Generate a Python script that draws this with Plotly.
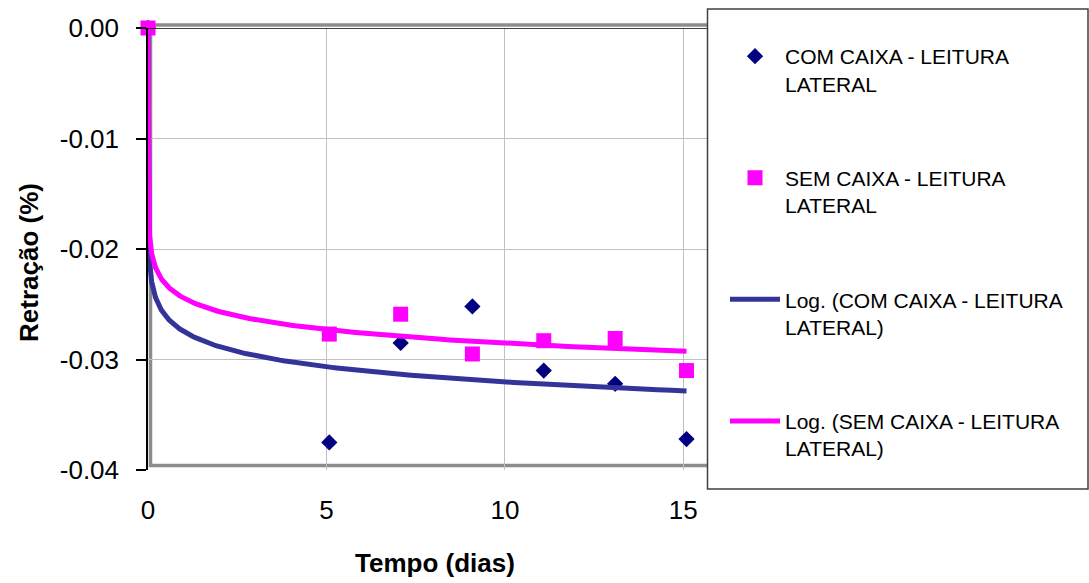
import numpy as np
import plotly.graph_objects as go

# ---- data ----
tempo = [0.000001, 5.08, 7.08, 9.09, 11.09, 13.09, 15.09]
com_caixa = [0.0, -0.0375, -0.0285, -0.0252, -0.0310, -0.0322, -0.0372]
sem_caixa = [0.0, -0.0277, -0.0259, -0.0295, -0.0283, -0.0281, -0.0310]

y_tick_vals = [0.0, -0.01, -0.02, -0.03, -0.04]
y_tick_text = ["0.00", "-0.01", "-0.02", "-0.03", "-0.04"]
x_tick_vals = [0, 5, 10, 15]

names = ["COM CAIXA - LEITURA<br>LATERAL", "SEM CAIXA - LEITURA<br>LATERAL",
         "Log. (COM CAIXA - LEITURA<br>LATERAL)", "Log. (SEM CAIXA - LEITURA<br>LATERAL)"]

NAVY = "#000080"
TREND_NAVY = "#333399"
PINK = "#FF00FF"


def log_trend(x, y):
    lx = np.log(np.asarray(x))
    a, b = np.polyfit(lx, np.asarray(y), 1)
    xs = np.geomspace(min(x), max(x), 600)
    return xs, a * np.log(xs) + b


tx_c, ty_c = log_trend(tempo, com_caixa)
tx_s, ty_s = log_trend(tempo, sem_caixa)

FONT = "Liberation Sans, Arial, sans-serif"

fig = go.Figure()
fig.add_trace(go.Scatter(x=tempo, y=com_caixa, mode="markers", name=names[0],
                         legendgroup="a",
                         marker=dict(symbol="diamond", size=12.5, color=NAVY),
                         cliponaxis=False))
fig.add_trace(go.Scatter(x=tempo, y=sem_caixa, mode="markers", name=names[1],
                         legendgroup="b",
                         marker=dict(symbol="square", size=15, color=PINK),
                         cliponaxis=False))
fig.add_trace(go.Scatter(x=tx_c, y=ty_c, mode="lines", name=names[2],
                         legendgroup="c",
                         line=dict(color=TREND_NAVY, width=5)))
fig.add_trace(go.Scatter(x=tx_s, y=ty_s, mode="lines", name=names[3],
                         legendgroup="d",
                         line=dict(color=PINK, width=5)))

L, R, T, B = 148, 370, 28, 113
W, H = 1089, 583
PW = W - L - R
PH = H - T - B


def px_x(p):
    return (p - L) / PW


def px_y(p):
    return (H - B - p) / PH


shapes = [
    # grey plot-area border
    dict(type="rect", xref="paper", yref="paper",
         x0=px_x(150.5), x1=1.0, y0=px_y(465.5), y1=px_y(25),
         line=dict(color="#8c8c8c", width=3.5), layer="below"),
    # black x axis line at y=0
    dict(type="line", xref="paper", yref="y", x0=px_x(137), x1=1.0, y0=0, y1=0,
         line=dict(color="black", width=1.5), layer="above"),
    # legend box
    dict(type="rect", xref="paper", yref="paper",
         x0=px_x(707.5), x1=px_x(1088), y0=px_y(489), y1=px_y(9),
         line=dict(color="#404040", width=1.5), fillcolor="white", layer="above"),
]

annotations = [
    dict(text="<b>Tempo (dias)</b>", xref="paper", yref="paper",
         x=px_x(434.5), y=px_y(563), showarrow=False,
         font=dict(family=FONT, size=26, color="black"),
         xanchor="center", yanchor="middle"),
    dict(text="<b>Retração (%)</b>", xref="paper", yref="paper",
         x=px_x(29), y=px_y(263), showarrow=False, textangle=-90,
         font=dict(family=FONT, size=26, color="black"),
         xanchor="center", yanchor="middle"),
]

fig.update_layout(
    width=W, height=H,
    margin=dict(l=L, r=R, t=T, b=B, pad=0, autoexpand=False),
    paper_bgcolor="white", plot_bgcolor="white",
    font=dict(family=FONT, color="black"),
    showlegend=True,
    legend=dict(x=px_x(725), y=px_y(36), xanchor="left", yanchor="top",
                bgcolor="rgba(0,0,0,0)", borderwidth=0,
                font=dict(family=FONT, size=21, color="black"),
                tracegroupgap=64, valign="top", itemwidth=50),
    shapes=shapes,
    annotations=annotations,
)

fig.update_xaxes(range=[0, 16], tickvals=x_tick_vals, ticktext=[str(v) for v in x_tick_vals],
                 showgrid=True, gridcolor="#c0c0c0", gridwidth=1,
                 zeroline=False, showline=False, ticks="",
                 tickfont=dict(family=FONT, size=26, color="black"),
                 ticklabelstandoff=22)
fig.update_yaxes(range=[-0.04, 0], tickvals=y_tick_vals, ticktext=y_tick_text,
                 showgrid=True, gridcolor="#c0c0c0", gridwidth=1,
                 zeroline=False, showline=True, linecolor="black", linewidth=1.5,
                 ticks="outside", ticklen=10, tickcolor="black", tickwidth=1.5,
                 tickfont=dict(family=FONT, size=26, color="black"),
                 ticklabelstandoff=12)

fig.write_html("out.html",
               config={"displayModeBar": False},
               post_script="document.body.style.margin='0';document.body.style.overflow='hidden';")
